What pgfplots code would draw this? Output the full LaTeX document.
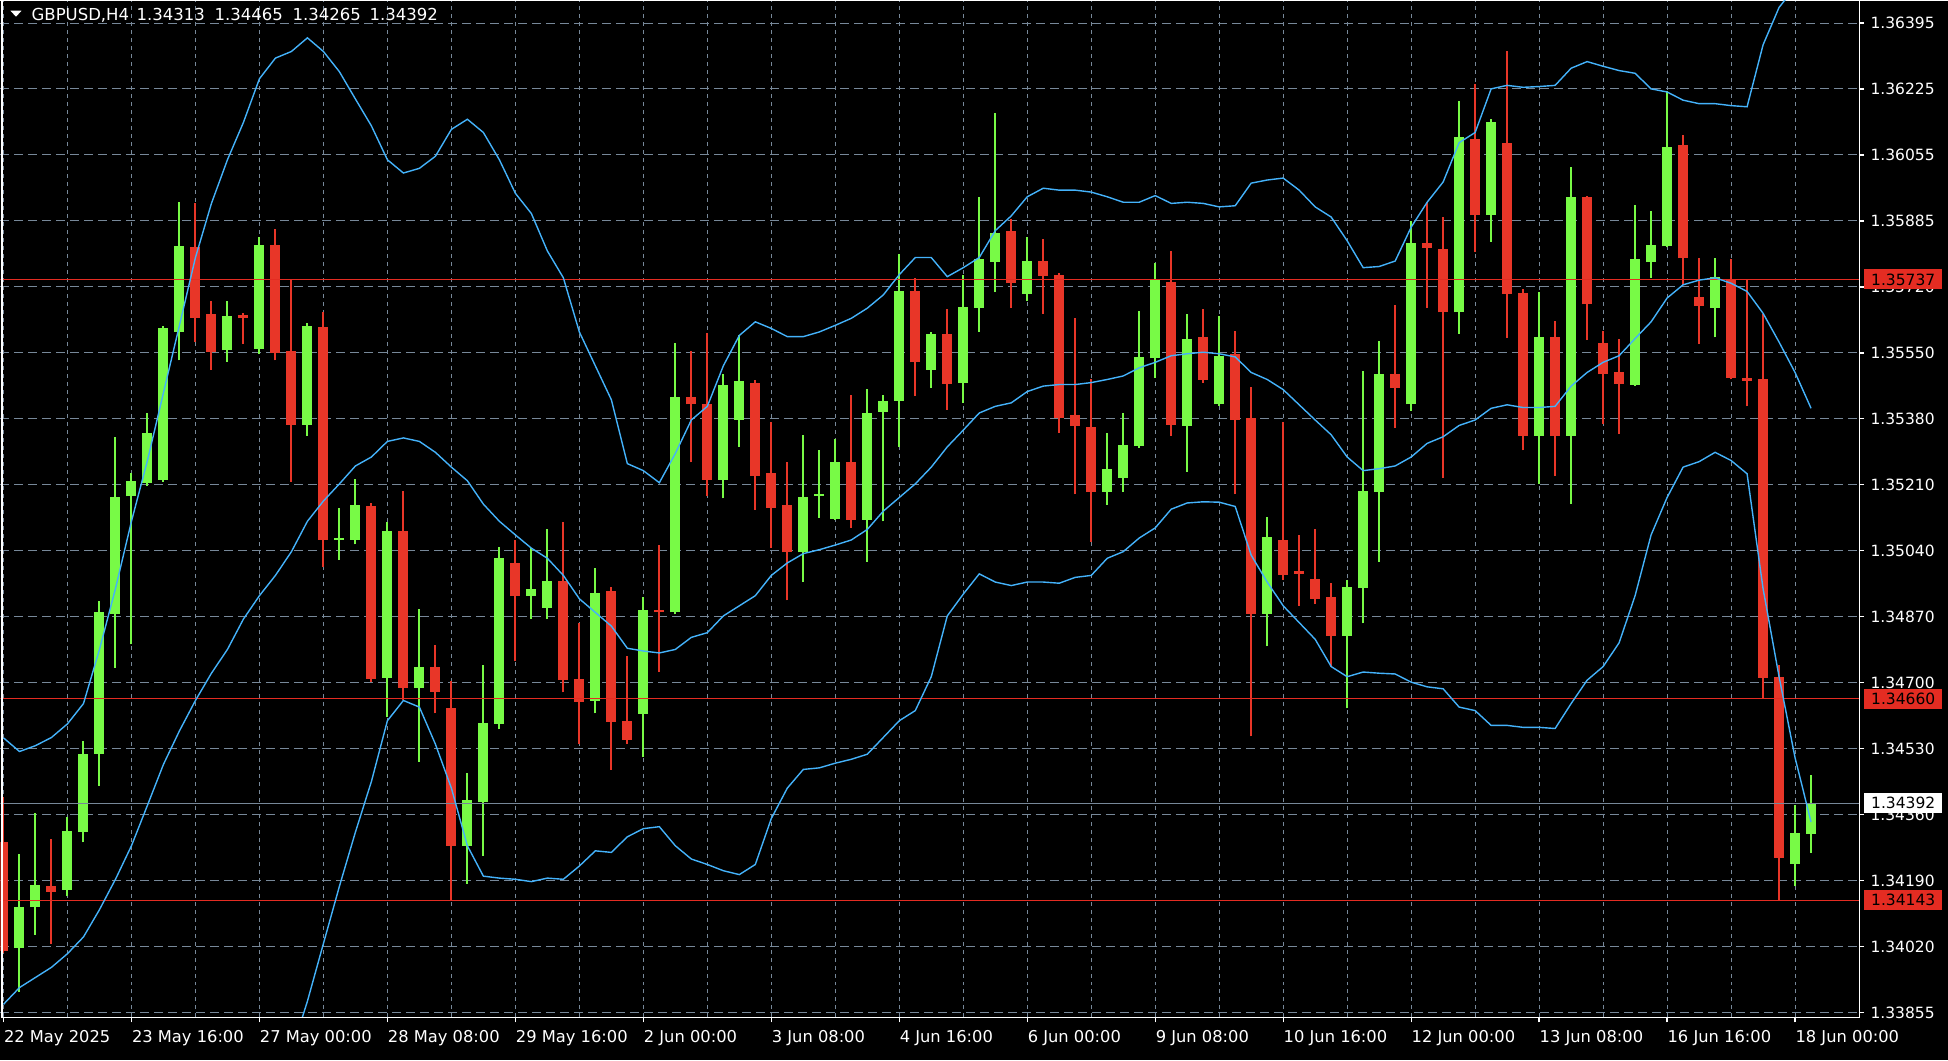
\documentclass[border=0pt]{standalone}
\usepackage{fontspec}
\setmainfont{DejaVu Sans}
\usepackage{pgfplots}
\usepackage{pgfplotstable}
\pgfplotsset{compat=1.18}

\definecolor{bull}{RGB}{120,250,70}
\definecolor{bear}{RGB}{232,54,40}
\definecolor{band}{RGB}{68,178,250}
\definecolor{gridgrey}{RGB}{119,136,153}
\definecolor{level}{RGB}{228,44,34}

% GBPUSD H4 candles: index, open, high, low, close
\pgfplotstableread{
j O H L C
1 1.34020 1.34261 1.33907 1.34127
2 1.34127 1.34368 1.34054 1.34183
4 1.34169 1.34358 1.34153 1.34322
5 1.34318 1.34552 1.34292 1.34518
6 1.34518 1.34911 1.34436 1.34882
7 1.34878 1.35333 1.34740 1.35179
8 1.35180 1.35241 1.34800 1.35220
9 1.35215 1.35395 1.35206 1.35343
10 1.35222 1.35616 1.35218 1.35611
11 1.35602 1.35935 1.35529 1.35822
14 1.35555 1.35682 1.35526 1.35642
16 1.35559 1.35845 1.35546 1.35826
19 1.35364 1.35626 1.35335 1.35616
21 1.35069 1.35149 1.35017 1.35073
22 1.35068 1.35224 1.35057 1.35158
24 1.34714 1.35113 1.34613 1.35092
26 1.34688 1.34892 1.34499 1.34743
29 1.34283 1.34471 1.34186 1.34400
30 1.34396 1.34748 1.34257 1.34599
31 1.34596 1.35050 1.34582 1.35021
33 1.34924 1.35048 1.34865 1.34943
34 1.34894 1.35097 1.34865 1.34963
37 1.34655 1.34995 1.34623 1.34932
40 1.34622 1.34922 1.34512 1.34887
42 1.34882 1.35574 1.34877 1.35435
45 1.35222 1.35493 1.35175 1.35467
46 1.35376 1.35593 1.35307 1.35477
50 1.35036 1.35338 1.34960 1.35179
51 1.35182 1.35298 1.35125 1.35187
52 1.35123 1.35328 1.35120 1.35267
54 1.35120 1.35456 1.35012 1.35395
55 1.35397 1.35441 1.35116 1.35425
56 1.35425 1.35801 1.35307 1.35708
58 1.35505 1.35602 1.35458 1.35597
60 1.35472 1.35749 1.35420 1.35666
61 1.35663 1.35949 1.35602 1.35789
62 1.35781 1.36164 1.35704 1.35857
64 1.35699 1.35847 1.35682 1.35784
69 1.35191 1.35343 1.35158 1.35251
70 1.35227 1.35395 1.35191 1.35312
71 1.35309 1.35656 1.35305 1.35538
72 1.35534 1.35779 1.35484 1.35735
74 1.35361 1.35647 1.35243 1.35585
76 1.35416 1.35642 1.35413 1.35541
79 1.34878 1.35128 1.34795 1.35076
84 1.34821 1.34965 1.34636 1.34948
85 1.34944 1.35503 1.34854 1.35194
86 1.35191 1.35579 1.35012 1.35493
88 1.35416 1.35888 1.35399 1.35831
91 1.35652 1.36195 1.35597 1.36103
93 1.35902 1.36148 1.35833 1.36140
96 1.35335 1.35704 1.35212 1.35590
98 1.35335 1.36025 1.35160 1.35949
102 1.35467 1.35928 1.35463 1.35789
103 1.35781 1.35912 1.35741 1.35826
104 1.35822 1.36221 1.35819 1.36077
107 1.35663 1.35793 1.35588 1.35744
112 1.34237 1.34387 1.34179 1.34315
113 1.34313 1.34465 1.34265 1.34392
}\bulls

\pgfplotstableread{
j O H L C
0 1.34292 1.34408 1.34009 1.34014
3 1.34179 1.34301 1.34032 1.34165
12 1.35820 1.35932 1.35576 1.35638
13 1.35647 1.35682 1.35505 1.35550
15 1.35645 1.35650 1.35571 1.35637
17 1.35826 1.35866 1.35529 1.35548
18 1.35553 1.35737 1.35217 1.35364
20 1.35616 1.35654 1.34998 1.35068
23 1.35154 1.35163 1.34703 1.34712
25 1.35092 1.35194 1.34656 1.34688
27 1.34743 1.34799 1.34623 1.34679
28 1.34636 1.34707 1.34145 1.34283
32 1.35010 1.35069 1.34757 1.34924
35 1.34963 1.35113 1.34677 1.34708
36 1.34712 1.34856 1.34544 1.34653
38 1.34937 1.34948 1.34478 1.34601
39 1.34604 1.34769 1.34544 1.34554
41 1.34887 1.35055 1.34729 1.34882
43 1.35435 1.35553 1.35267 1.35416
44 1.35418 1.35600 1.35180 1.35222
47 1.35472 1.35479 1.35146 1.35232
48 1.35241 1.35371 1.35047 1.35151
49 1.35158 1.35267 1.34913 1.35036
53 1.35267 1.35441 1.35099 1.35120
57 1.35708 1.35741 1.35437 1.35524
59 1.35597 1.35661 1.35402 1.35468
63 1.35862 1.35893 1.35663 1.35727
65 1.35784 1.35841 1.35649 1.35746
66 1.35749 1.35753 1.35342 1.35382
67 1.35390 1.35637 1.35186 1.35361
68 1.35359 1.35480 1.35064 1.35191
73 1.35729 1.35810 1.35335 1.35364
75 1.35590 1.35661 1.35472 1.35479
77 1.35545 1.35605 1.35186 1.35376
78 1.35380 1.35461 1.34564 1.34878
80 1.35069 1.35371 1.34965 1.34979
81 1.34988 1.35081 1.34899 1.34981
82 1.34969 1.35097 1.34904 1.34917
83 1.34922 1.34958 1.34743 1.34821
87 1.35493 1.35671 1.35356 1.35458
89 1.35831 1.35935 1.35663 1.35817
90 1.35815 1.35897 1.35227 1.35652
92 1.36098 1.36239 1.35807 1.35902
94 1.36088 1.36324 1.35586 1.35699
95 1.35703 1.35713 1.35298 1.35335
97 1.35590 1.35631 1.35232 1.35335
99 1.35949 1.35952 1.35581 1.35673
100 1.35574 1.35605 1.35366 1.35494
101 1.35498 1.35585 1.35340 1.35468
105 1.36082 1.36108 1.35723 1.35791
106 1.35692 1.35793 1.35571 1.35668
108 1.35735 1.35788 1.35480 1.35484
109 1.35484 1.35737 1.35411 1.35477
110 1.35480 1.35649 1.34660 1.34714
111 1.34717 1.34747 1.34143 1.34252
}\bears

% Bollinger bands: upper and middle
\pgfplotstableread{
j U M
0 1.34560 1.33876
1 1.34525 1.33919
2 1.34540 1.33945
3 1.34561 1.33971
4 1.34596 1.34006
5 1.34648 1.34049
6 1.34787 1.34119
7 1.34943 1.34197
8 1.35116 1.34283
9 1.35272 1.34387
10 1.35446 1.34492
11 1.35619 1.34578
12 1.35793 1.34656
13 1.35932 1.34726
14 1.36044 1.34787
15 1.36140 1.34865
16 1.36252 1.34925
17 1.36305 1.34977
18 1.36322 1.35038
19 1.36357 1.35116
20 1.36322 1.35168
21 1.36270 1.35212
22 1.36200 1.35258
23 1.36131 1.35281
24 1.36044 1.35321
25 1.36010 1.35330
26 1.36022 1.35321
27 1.36053 1.35293
28 1.36122 1.35255
29 1.36148 1.35220
30 1.36114 1.35160
31 1.36044 1.35116
32 1.35958 1.35081
33 1.35906 1.35047
34 1.35810 1.35021
35 1.35741 1.34977
36 1.35602 1.34917
37 1.35515 1.34882
38 1.35428 1.34847
39 1.35264 1.34790
40 1.35246 1.34783
41 1.35215 1.34778
42 1.35290 1.34787
43 1.35376 1.34818
44 1.35411 1.34830
45 1.35515 1.34873
46 1.35593 1.34899
47 1.35628 1.34925
48 1.35611 1.34977
49 1.35590 1.35009
50 1.35590 1.35033
51 1.35602 1.35043
52 1.35619 1.35055
53 1.35637 1.35068
54 1.35663 1.35095
55 1.35697 1.35142
56 1.35749 1.35177
57 1.35793 1.35212
58 1.35793 1.35255
59 1.35744 1.35307
60 1.35767 1.35350
61 1.35793 1.35394
62 1.35862 1.35411
63 1.35900 1.35420
64 1.35949 1.35449
65 1.35971 1.35463
66 1.35966 1.35467
67 1.35966 1.35467
68 1.35961 1.35472
69 1.35949 1.35480
70 1.35935 1.35489
71 1.35935 1.35510
72 1.35952 1.35524
73 1.35932 1.35541
74 1.35935 1.35546
75 1.35932 1.35550
76 1.35923 1.35546
77 1.35926 1.35538
78 1.35984 1.35498
79 1.35992 1.35480
80 1.35997 1.35454
81 1.35966 1.35415
82 1.35923 1.35376
83 1.35897 1.35338
84 1.35836 1.35281
85 1.35767 1.35246
86 1.35770 1.35251
87 1.35784 1.35258
88 1.35871 1.35281
89 1.35935 1.35316
90 1.35987 1.35333
91 1.36088 1.35362
92 1.36114 1.35376
93 1.36226 1.35406
94 1.36235 1.35415
95 1.36230 1.35408
96 1.36232 1.35408
97 1.36235 1.35411
98 1.36279 1.35463
99 1.36296 1.35498
100 1.36284 1.35524
101 1.36273 1.35541
102 1.36266 1.35585
103 1.36226 1.35628
104 1.36218 1.35689
105 1.36197 1.35723
106 1.36188 1.35735
107 1.36188 1.35741
108 1.36183 1.35727
109 1.36180 1.35706
110 1.36339 1.35650
111 1.36435 1.35576
112 1.36487 1.35498
113 1.36468 1.35406
}\bands

% lower band (below the chart before candle 15)
\pgfplotstableread{
j L
15 1.33589
16 1.33598
17 1.33650
18 1.33754
19 1.33884
20 1.34032
21 1.34179
22 1.34318
23 1.34448
24 1.34604
25 1.34656
26 1.34639
27 1.34544
28 1.34431
29 1.34283
30 1.34205
31 1.34200
32 1.34197
33 1.34191
34 1.34200
35 1.34197
36 1.34231
37 1.34270
38 1.34266
39 1.34306
40 1.34327
41 1.34332
42 1.34283
43 1.34249
44 1.34235
45 1.34219
46 1.34209
47 1.34235
48 1.34353
49 1.34431
50 1.34479
51 1.34483
52 1.34495
53 1.34505
54 1.34518
55 1.34561
56 1.34604
57 1.34630
58 1.34717
59 1.34873
60 1.34929
61 1.34981
62 1.34960
63 1.34951
64 1.34960
65 1.34960
66 1.34957
67 1.34972
68 1.34977
69 1.35021
70 1.35038
71 1.35073
72 1.35099
73 1.35147
74 1.35163
75 1.35166
76 1.35165
77 1.35154
78 1.35029
79 1.34960
80 1.34899
81 1.34856
82 1.34813
83 1.34743
84 1.34717
85 1.34729
86 1.34726
87 1.34724
88 1.34703
89 1.34691
90 1.34686
91 1.34639
92 1.34630
93 1.34592
94 1.34592
95 1.34587
96 1.34587
97 1.34584
98 1.34648
99 1.34708
100 1.34743
101 1.34804
102 1.34925
103 1.35081
104 1.35177
105 1.35255
106 1.35269
107 1.35293
108 1.35272
109 1.35238
110 1.34943
111 1.34717
112 1.34509
113 1.34344
}\lowband

\begin{document}
\begin{tikzpicture}[x=1pt,y=1pt]
\fill[black] (0,-43) rectangle (1948,1017);
\begin{axis}[
  at={(0,0)}, anchor=south west,
  scale only axis, width=1859pt, height=1017pt,
  xmin=-0.1875, xmax=116,
  ymin=1.338422, ymax=1.364522,
  clip mode=individual,
  axis line style={draw=none},
  xtick={0,8,...,112},
  minor xtick={4,12,...,108},
  xticklabels={22 May 2025,23 May 16:00,27 May 00:00,28 May 08:00,29 May 16:00,2 Jun 00:00,3 Jun 08:00,4 Jun 16:00,6 Jun 00:00,9 Jun 08:00,10 Jun 16:00,12 Jun 00:00,13 Jun 08:00,16 Jun 16:00,18 Jun 00:00},
  ytick={1.33855,1.3402433,1.3419367,1.34363,1.3453233,1.3470167,1.34871,1.3504033,1.3520967,1.35379,1.3554833,1.3571767,1.35887,1.3605633,1.3622567,1.36395},
  yticklabels={1.33855,1.34020,1.34190,1.34360,1.34530,1.34700,1.34870,1.35040,1.35210,1.35380,1.35550,1.35720,1.35885,1.36055,1.36225,1.36395},
  xtick pos=bottom, ytick pos=right, yticklabel pos=right,
  tick align=outside,
  major tick length=5pt, minor tick length=0pt,
  tick style={white, line width=1.3pt},
  xmajorgrids, xminorgrids, ymajorgrids,
  major grid style={gridgrey, line width=1pt},
  minor grid style={gridgrey, line width=1pt},
  every axis x grid/.append style={dash pattern=on 4pt off 4pt},
  every axis y grid/.append style={dash pattern=on 9pt off 5pt},
  tick label style={font=\fontsize{15.5}{15.5}\selectfont, text=white},
  xticklabel style={font=\fontsize{16.3}{16.3}\selectfont, anchor=base west, xshift=-3pt, yshift=-20pt},
  yticklabel style={anchor=west, xshift=3pt},
]
% wicks
\addplot[draw=none, mark=none, forget plot, error bars/.cd, y dir=plus, y explicit, error mark=none,
  error bar style={draw=bull, line width=2pt}]
  table[x=j, y=L, y error plus expr=\thisrow{H}-\thisrow{L}]{\bulls};
\addplot[draw=none, mark=none, forget plot, error bars/.cd, y dir=plus, y explicit, error mark=none,
  error bar style={draw=bear, line width=2pt}]
  table[x=j, y=L, y error plus expr=\thisrow{H}-\thisrow{L}]{\bears};
% bodies
\addplot[draw=none, mark=none, forget plot, error bars/.cd, y dir=plus, y explicit, error mark=none,
  error bar style={draw=bull, line width=10pt}]
  table[x=j, y=O, y error plus expr=\thisrow{C}-\thisrow{O}]{\bulls};
\addplot[draw=none, mark=none, forget plot, error bars/.cd, y dir=plus, y explicit, error mark=none,
  error bar style={draw=bear, line width=10pt}]
  table[x=j, y=C, y error plus expr=\thisrow{O}-\thisrow{C}]{\bears};

% horizontal levels and bid line
\addplot[level, line width=1pt, mark=none] coordinates {(-0.1875,1.35737) (116,1.35737)};
\addplot[level, line width=1pt, mark=none] coordinates {(-0.1875,1.34660) (116,1.34660)};
\addplot[level, line width=1pt, mark=none] coordinates {(-0.1875,1.34143) (116,1.34143)};
\addplot[gridgrey, line width=1pt, mark=none] coordinates {(-0.1875,1.34392) (116,1.34392)};

% bands
\addplot[band, line width=1.4pt, mark=none] table[x=j, y=U]{\bands};
\addplot[band, line width=1.4pt, mark=none] table[x=j, y=M]{\bands};
\addplot[band, line width=1.4pt, mark=none] table[x=j, y=L]{\lowband};

\coordinate (tA) at (axis cs:116,1.35737);
\coordinate (tB) at (axis cs:116,1.34660);
\coordinate (tC) at (axis cs:116,1.34392);
\coordinate (tD) at (axis cs:116,1.34143);
\end{axis}

% frame
\draw[white, line width=1.5pt] (1.5,1017) -- (1.5,0) -- (1859.5,0) -- (1859.5,1017);

% price tags
\begin{scope}[every node/.style={font=\fontsize{15.5}{15.5}\selectfont, text=black, minimum width=78pt, minimum height=20pt, inner sep=0pt, anchor=west}]
\node[fill=level] at ([xshift=5pt]tA) {1.35737};
\node[fill=level] at ([xshift=5pt]tB) {1.34660};
\node[fill=white] at ([xshift=5pt]tC) {1.34392};
\node[fill=level] at ([xshift=5pt]tD) {1.34143};
\end{scope}

% header
\fill[white] (10,1007) -- (21,1007) -- (15.5,1001) -- cycle;
\begin{scope}[every node/.style={font=\fontsize{16.5}{16.5}\selectfont, text=white, inner sep=0pt, anchor=base west}]
\node at (31,997) {GBPUSD,H4};
\node at (136,997) {1.34313};
\node at (214,997) {1.34465};
\node at (292,997) {1.34265};
\node at (369,997) {1.34392};
\end{scope}
\useasboundingbox (0,-43) rectangle (1948,1017);
\end{tikzpicture}
\end{document}
